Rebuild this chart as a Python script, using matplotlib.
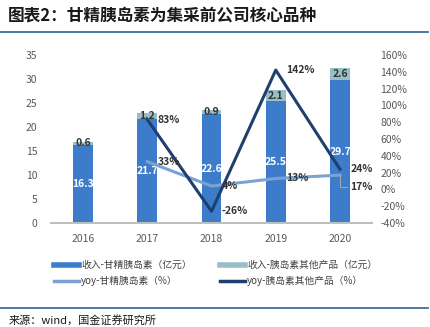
import matplotlib.pyplot as plt
from matplotlib.lines import Line2D

plt.rcParams['font.family'] = ['Noto Sans CJK SC', 'DejaVu Sans']

# --- DADOS ---
anos = ["2016", "2017", "2018", "2019", "2020"]
receita_gj = [16.3, 21.7, 22.6, 25.5, 29.7]      # 收入-甘精胰岛素（亿元）
receita_outros = [0.6, 1.2, 0.9, 2.1, 2.6]       # 收入-胰岛素其他产品（亿元）
anos_yoy = ["2017", "2018", "2019", "2020"]
yoy_gj = [33, 4, 13, 17]                          # yoy-甘精胰岛素（%）
yoy_outros = [83, -26, 142, 24]                   # yoy-胰岛素其他产品（%）

c_bar = "#3D7BCB"
c_top = "#98BEC6"
c_light = "#7AA3D3"
c_dark = "#1F3F6E"
c_tick = "#595959"

fig = plt.figure(figsize=(4.31, 3.27), dpi=100)

# titulo e linhas de moldura
fig.text(0.019, 0.953, "图表2：甘精胰岛素为集采前公司核心品种", fontsize=12,
         fontweight="bold", color="#1a1a1a", va="center")
fig.add_artist(Line2D([0, 0.993], [0.902, 0.902], color="#3B6E98", lw=1.3))
fig.add_artist(Line2D([0, 0.993], [0.058, 0.058], color="#3B6E98", lw=1.3))
fig.text(0.019, 0.022, "来源：wind，国金证券研究所", fontsize=8, color="#1a1a1a", va="center")

ax = fig.add_axes([0.1183, 0.318, 0.745, 0.514])
x = list(range(len(anos)))
w = 0.31
ax.bar(x, receita_gj, w, color=c_bar, zorder=2)
ax.bar(x, receita_outros, w, bottom=receita_gj, color=c_top, zorder=2)

for i in x:
    ax.text(i, receita_gj[i] / 2, f"{receita_gj[i]}", ha="center", va="center",
            color="white", fontsize=7.5, fontweight="bold", zorder=5)
    ax.text(i, receita_gj[i] + receita_outros[i] / 2, f"{receita_outros[i]}",
            ha="center", va="center", color="#333333", fontsize=7.5,
            fontweight="bold", zorder=5)

ax.set_xlim(-0.5, 4.5)
ax.set_ylim(0, 35)
ax.set_yticks(range(0, 36, 5))
ax.set_xticks(x)
ax.set_xticklabels(anos)
for s in ["top", "right", "left"]:
    ax.spines[s].set_visible(False)
ax.spines["bottom"].set_color("#BFBFBF")
ax.spines["bottom"].set_linewidth(1.5)
ax.tick_params(axis="both", length=0, labelsize=7.5, colors=c_tick)
ax.tick_params(axis="x", pad=8)
ax.tick_params(axis="y", pad=10)

ax2 = ax.twinx()
xi = [anos.index(a) for a in anos_yoy]
ax2.plot(xi, yoy_gj, color=c_light, lw=2.2, zorder=3)
ax2.plot(xi, yoy_outros, color=c_dark, lw=2.2, zorder=3)
ax2.set_ylim(-40, 160)
ax2.set_yticks(range(-40, 161, 20))
ax2.set_yticklabels([f"{v}%" for v in range(-40, 161, 20)])
for s in ax2.spines.values():
    s.set_visible(False)
ax2.tick_params(axis="y", length=0, labelsize=7.5, colors=c_tick, pad=6)

for i, v in zip(xi, yoy_outros):
    ax2.text(i + 0.16, v, f"{v}%", ha="left", va="center", fontsize=7.5,
             fontweight="bold", color="#333333", zorder=6)
for i, v in zip(xi[:-1], yoy_gj[:-1]):
    ax2.text(i + 0.16, v, f"{v}%", ha="left", va="center", fontsize=7.5,
             fontweight="bold", color="#333333", zorder=6)
# ultimo rotulo com linha de chamada
ax2.annotate(f"{yoy_gj[-1]}%", xy=(xi[-1], yoy_gj[-1]), xytext=(xi[-1] + 0.16, yoy_gj[-1] - 14),
             ha="left", va="center", fontsize=7.5, fontweight="bold", color="#333333",
             arrowprops=dict(arrowstyle="-", color="#A6A6A6", lw=0.8,
                             connectionstyle="angle,angleA=0,angleB=90,rad=0",
                             shrinkA=0, shrinkB=0), zorder=6)

# legenda (ordem por coluna)
handles = [
    Line2D([], [], color=c_bar, lw=4),
    Line2D([], [], color=c_light, lw=2.5),
    Line2D([], [], color=c_top, lw=4),
    Line2D([], [], color=c_dark, lw=2.5),
]
labels = ["收入-甘精胰岛素（亿元）", "yoy-甘精胰岛素（%）",
          "收入-胰岛素其他产品（亿元）", "yoy-胰岛素其他产品（%）"]
fig.legend(handles, labels, loc="center", bbox_to_anchor=(0.5, 0.165), ncol=2,
           frameon=False, fontsize=7, labelcolor="#404040", handlelength=2.6,
           handletextpad=0.2, columnspacing=2.9, labelspacing=0.6)

plt.savefig("out.png", dpi=100)
plt.close()
